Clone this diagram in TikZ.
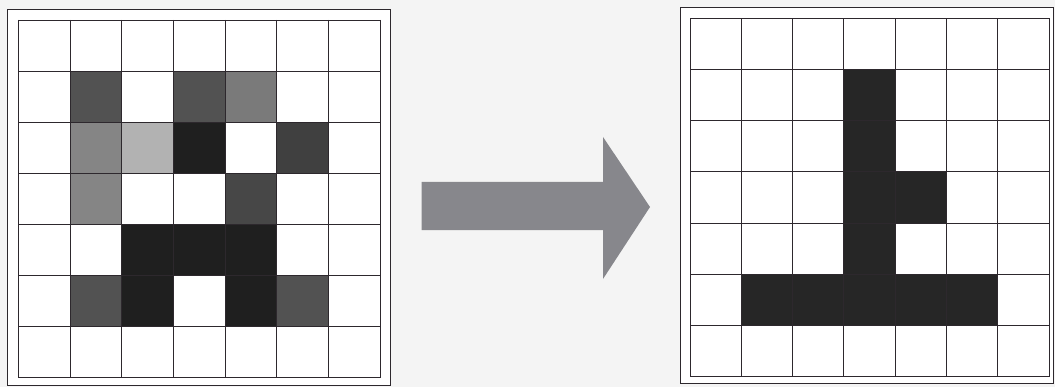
\documentclass[tikz,border=0pt]{standalone}
\usepackage{xcolor}
\usepackage{tikz}
\usetikzlibrary{positioning}
\definecolor{gridline}{RGB}{45, 40, 45}
\definecolor{pagebg}{RGB}{244, 244, 244}
\definecolor{arrowgray}{RGB}{135, 135, 140}

\begin{document}
\begin{tikzpicture}[
  x=0.025cm, y=-0.025cm,
  panel/.style={draw=gridline, line width=0.6pt, fill=white},
  cell/.style={draw=gridline, line width=0.7pt},
  bigarrow/.style={fill=arrowgray}
]

% Background (fixes the margins)
\fill[pagebg] (0,0) rectangle (1055,387);

% Left panel: grey-level input
\draw[panel] (7,9) rectangle (390,385);
\begin{scope}[shift={(18.3,20)}, x=1.2925cm, y=-1.2775cm]
  \foreach \c/\r/\s in {1/1/68, 3/1/68, 4/1/52,
                         1/2/48, 2/2/30, 3/2/88, 5/2/75,
                         1/3/48, 4/3/72,
                         2/4/88, 3/4/88, 4/4/88,
                         1/5/68, 2/5/88, 4/5/88, 5/5/68}
    \fill[black!\s] (\c,\r) rectangle ++(1,1);
  \foreach \i in {0,...,7} {
    \draw[cell] (\i,0) -- (\i,7);
    \draw[cell] (0,\i) -- (7,\i);
  }
\end{scope}

% Arrow
\fill[bigarrow] (421.7,182) -- (603,182) -- (603,137) -- (650,207)
  -- (603,279) -- (603,230) -- (421.7,230) -- cycle;

% Right panel: binary output
\draw[panel] (680,7) rectangle (1053,383);
\begin{scope}[shift={(690,18.3)}, x=1.2825cm, y=-1.28cm]
  \foreach \c/\r in {3/1, 3/2, 3/3, 4/3, 3/4, 1/5, 2/5, 3/5, 4/5, 5/5}
    \fill[black!85] (\c,\r) rectangle ++(1,1);
  \foreach \i in {0,...,7} {
    \draw[cell] (\i,0) -- (\i,7);
    \draw[cell] (0,\i) -- (7,\i);
  }
\end{scope}

\end{tikzpicture}
\end{document}
